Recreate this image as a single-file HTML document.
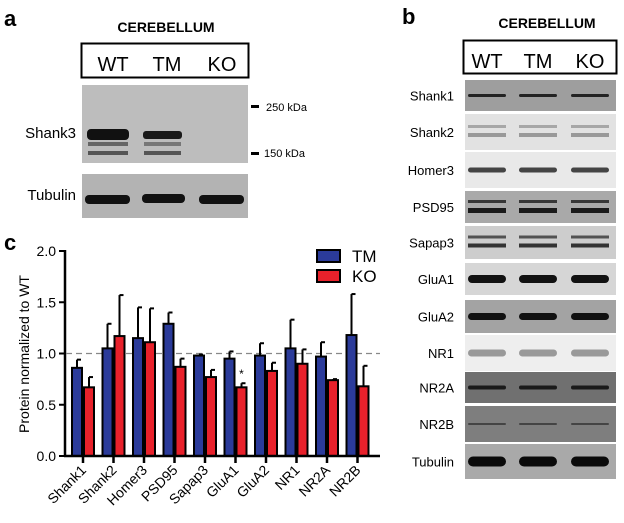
<!DOCTYPE html>
<html><head><meta charset="utf-8"><style>
body{margin:0;background:#fff;width:624px;height:518px;overflow:hidden;font-family:"Liberation Sans",sans-serif}
svg text{font-family:"Liberation Sans",sans-serif}
</style></head><body>
<svg id="fig" width="624" height="518" viewBox="0 0 624 518">
<!-- Panel a -->
<g>
<text x="4" y="26" font-size="22" font-weight="bold">a</text>
<text x="166" y="32" font-size="14" font-weight="bold" text-anchor="middle">CEREBELLUM</text>
<rect x="81.5" y="43.5" width="167" height="34" fill="#fff" stroke="#000" stroke-width="2"/>
<text x="113" y="71" font-size="20" text-anchor="middle">WT</text>
<text x="167" y="71" font-size="20" text-anchor="middle">TM</text>
<text x="222" y="71" font-size="20" text-anchor="middle">KO</text>
<rect x="82" y="85" width="166" height="78" fill="#bdbdbd"/>
<rect x="87" y="129" width="42" height="11" rx="4" fill="#111"/>
<rect x="143" y="131" width="39" height="8" rx="3" fill="#1a1a1a"/>
<rect x="88" y="142" width="40" height="4" fill="#666"/>
<rect x="144" y="142" width="37" height="4" fill="#777"/>
<rect x="88" y="151" width="40" height="4" fill="#555"/>
<rect x="144" y="151" width="37" height="4" fill="#555"/>
<rect x="82" y="174" width="166" height="44" fill="#b3b3b3"/>
<rect x="85" y="195" width="45" height="9" rx="4" fill="#111"/>
<rect x="142" y="194" width="43" height="9" rx="4" fill="#111"/>
<rect x="199" y="195" width="45" height="9" rx="4" fill="#111"/>
<text x="76" y="138" font-size="15" text-anchor="end">Shank3</text>
<text x="76" y="200" font-size="15" text-anchor="end">Tubulin</text>
<rect x="251" y="105" width="8" height="3" fill="#000"/>
<text x="266" y="111" font-size="11">250 kDa</text>
<rect x="251" y="152" width="8" height="3" fill="#000"/>
<text x="264" y="157" font-size="11">150 kDa</text>
</g>
<!-- Panel b -->
<g id="pb">
<text x="402" y="24" font-size="22" font-weight="bold">b</text>
<text x="547" y="28" font-size="14" font-weight="bold" text-anchor="middle">CEREBELLUM</text>
<rect x="463.5" y="40.5" width="153" height="33" fill="#fff" stroke="#000" stroke-width="2"/>
<text x="487" y="68" font-size="20" text-anchor="middle">WT</text>
<text x="538" y="68" font-size="20" text-anchor="middle">TM</text>
<text x="590" y="68" font-size="20" text-anchor="middle">KO</text>
</g>
<!-- Panel c -->
<g id="pc">
<text x="4" y="250" font-size="22" font-weight="bold">c</text>
<text transform="translate(29,354) rotate(-90)" font-size="14" text-anchor="middle">Protein normalized to WT</text>
</g>
</svg>
<script>
const categories=["Shank1","Shank2","Homer3","PSD95","Sapap3","GluA1","GluA2","NR1","NR2A","NR2B"];
const tmValues=[0.86,1.05,1.15,1.29,0.98,0.95,0.98,1.05,0.97,1.18];
const tmUpper=[0.94,1.29,1.45,1.40,0.99,1.02,1.10,1.33,1.11,1.58];
const koValues=[0.67,1.17,1.11,0.87,0.77,0.67,0.83,0.90,0.74,0.68];
const koUpper=[0.77,1.57,1.44,0.95,0.84,0.71,0.91,1.04,0.75,0.88];
const yTicks=[0,0.5,1.0,1.5,2.0];
const yTickLabels=["0.0","0.5","1.0","1.5","2.0"];
const blotRows=["Shank1","Shank2","Homer3","PSD95","Sapap3","GluA1","GluA2","NR1","NR2A","NR2B","Tubulin"];

const NS="http://www.w3.org/2000/svg";
function mk(tag,attrs,parent){const e=document.createElementNS(NS,tag);for(const k in attrs)e.setAttribute(k,attrs[k]);parent.appendChild(e);return e;}
const pc=document.getElementById('pc');
const y0=456,yScale=102.5;
const Y=v=>y0-v*yScale;
const X=i=>83+i*30.5;
const ax=mk('line',{x1:65,y1:250,x2:65,y2:y0+1,stroke:'#000','stroke-width':2.5},pc);


yTicks.forEach((t,i)=>{
 mk('line',{x1:59,x2:65,y1:Y(t),y2:Y(t),stroke:'#000','stroke-width':2},pc);
 const tx=mk('text',{x:56,y:Y(t)+5,'font-size':14,'text-anchor':'end'},pc);
 tx.textContent=yTickLabels[i];
 
 
});
const ref=mk('line',{x1:66,x2:380,y1:Y(1),y2:Y(1),stroke:'#888','stroke-width':1.3,'stroke-dasharray':'6,4'},pc);


categories.forEach((c,i)=>{
 const cx=X(i);
 [[tmValues,tmUpper,'#2b3b9a',-11],[koValues,koUpper,'#e8212b',1]].forEach(([vals,up,col,off],s)=>{
  mk('line',{x1:cx+off+5,x2:cx+off+5,y1:Y(up[i]),y2:Y(vals[i]),stroke:'#000','stroke-width':2},pc);
  mk('line',{x1:cx+off+5,x2:cx+off+9,y1:Y(up[i]),y2:Y(up[i]),stroke:'#000','stroke-width':2},pc);
  const b=mk('rect',{x:cx+off,y:Y(vals[i]),width:10,height:y0-Y(vals[i]),fill:col,stroke:'#000','stroke-width':2},pc);
  
  
 });
 mk('line',{x1:cx,x2:cx,y1:y0,y2:y0+7,stroke:'#000','stroke-width':2.5},pc);
 const t=mk('text',{transform:`translate(${cx+4},${y0+15}) rotate(-45)`,'font-size':14,'text-anchor':'end'},pc);
 t.textContent=c;
 
 
});
const xa=mk('line',{x1:64,x2:380,y1:y0,y2:y0,stroke:'#000','stroke-width':2.5},pc);


const star=mk('text',{x:X(5)+6,y:Y(koUpper[5])-5,'font-size':12,'text-anchor':'middle'},pc);
star.textContent='*';


[['TM','#2b3b9a',250],['KO','#e8212b',270]].forEach(([n,col,yy])=>{
 const r=mk('rect',{x:317,y:yy,width:23,height:12,fill:col,stroke:'#000','stroke-width':2},pc);
 
 
 const t=mk('text',{x:352,y:yy+12,'font-size':17},pc);
 t.textContent=n;
 
 
});
const pb=document.getElementById('pb');
const rowY=[[80,111],[114,150],[152,188],[191,223],[226,259],[263,295],[300,333],[335,371],[372,403],[406,442],[444,479]];
const rowBg=['#9e9e9e','#e2e2e2','#e9e9e9','#a9a9a9','#cdcdcd','#d6d6d6','#a3a3a3','#eeeeee','#707070','#7e7e7e','#a9a9a9'];
const bandCol=['#222','#999','#444','#1a1a1a','#333','#111','#111','#999','#1a1a1a','#444','#0a0a0a'];
const bandH=[3,4,5,5,4,8,7,7,4,2,10];
const lanes=[487,538,590];
blotRows.forEach((n,i)=>{
 const [a,b]=rowY[i];
 const r=mk('rect',{x:465,y:a,width:151,height:b-a,fill:rowBg[i]},pb);
 
 
 const mid=(a+b)/2;
 lanes.forEach(l=>{
  if(n==='Shank2'||n==='PSD95'||n==='Sapap3'){
   mk('rect',{x:l-19,y:mid-7,width:38,height:3,fill:bandCol[i],opacity:0.8},pb);
   mk('rect',{x:l-19,y:mid+1,width:38,height:bandH[i],fill:bandCol[i]},pb);
  } else {
   mk('rect',{x:l-19,y:mid-bandH[i]/2,width:38,height:bandH[i],rx:bandH[i]/2,fill:bandCol[i]},pb);
  }
 });
 const t=mk('text',{x:454,y:mid+5,'font-size':13,'text-anchor':'end'},pb);
 t.textContent=n;
 
 
});
</script>
</body></html>
